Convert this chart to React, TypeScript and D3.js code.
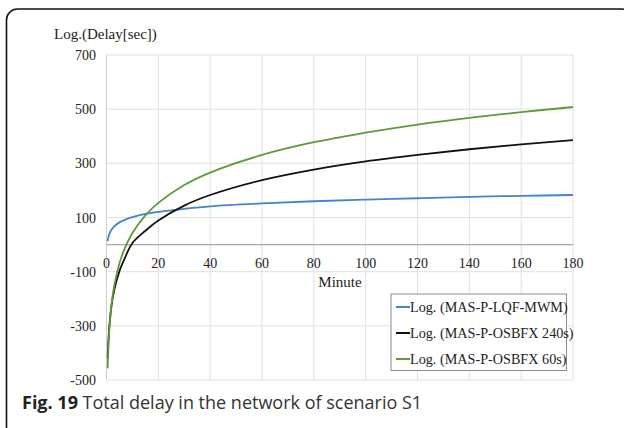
import React from 'react'
import * as d3 from 'd3'

// sample points (minute, log delay)
const minutes = [0.45, 1, 2, 3, 5, 7, 10, 15, 20, 30, 40, 60, 80, 100, 120, 140, 160, 180]
const lqfMwm = [13, 37, 56, 67, 82, 91, 101, 113, 121, 132, 141, 152, 160, 166, 171, 176, 180, 183]
const osbfx240 = [-420, -315, -221, -167, -98, -52, 6, 51, 89, 144, 183, 238, 277, 307, 331, 352, 370, 386]
const osbfx60 = [-457, -328, -216, -151, -69, -15, 43, 108, 154, 220, 266, 331, 378, 413, 443, 468, 489, 508]

const xTicks = [0, 20, 40, 60, 80, 100, 120, 140, 160, 180]
const yTicks = [-500, -300, -100, 100, 300, 500, 700]

const seriesNames = ['Log. (MAS-P-LQF-MWM)', 'Log. (MAS-P-OSBFX 240s)', 'Log. (MAS-P-OSBFX 60s)']
const seriesColors = ['#3f86cc', '#111111', '#5f9a3a']

export default function App() {
  const x = d3.scaleLinear().domain([0, 180]).range([106.5, 573])
  const y = d3.scaleLinear().domain([-500, 700]).range([380, 55])

  const line = d3
    .line<[number, number]>()
    .x(d => x(d[0]))
    .y(d => y(d[1]))
    .curve(d3.curveCatmullRom.alpha(0.5))

  const allSeries = [lqfMwm, osbfx240, osbfx60]
  const serif = "'Liberation Serif', 'Times New Roman', serif"

  return (
    <svg width={624} height={428} style={{ position: 'absolute', left: 0, top: 0 }}>
      <rect x={0} y={0} width={624} height={428} fill="#fff" />
      <rect x={6.5} y={9} width={626} height={430} rx={11} fill="none" stroke="#111" strokeWidth={1.6} />

      {/* grid */}
      {yTicks.map(t => (
        <line key={'gy' + t} x1={x(0)} x2={x(180)} y1={y(t)} y2={y(t)} stroke="#e0e0e0" />
      ))}
      {xTicks.map(t => (
        <line key={'gx' + t} x1={x(t)} x2={x(t)} y1={y(700)} y2={y(-500)} stroke={t === 0 ? '#cfcfcf' : '#e0e0e0'} />
      ))}
      <line x1={x(0)} x2={x(180)} y1={y(0)} y2={y(0)} stroke="#a6a6a6" strokeWidth={1.2} />

      {/* y labels */}
      {yTicks.map(t => (
        <text key={'ly' + t} x={96} y={y(t) + 5} textAnchor="end" fontFamily={serif} fontSize={14} fill="#222">
          {t}
        </text>
      ))}
      <text x={54} y={39} fontFamily={serif} fontSize={15} fill="#222">Log.(Delay[sec])</text>

      {/* x labels */}
      {xTicks.map(t => (
        <text key={'lx' + t} x={x(t)} y={y(0) + 23} textAnchor="middle" fontFamily={serif} fontSize={14} fill="#222">
          {t}
        </text>
      ))}
      <text x={340} y={287} textAnchor="middle" fontFamily={serif} fontSize={15} fill="#222">Minute</text>

      {/* curves */}
      {allSeries.map((vals, i) => (
        <path
          key={'s' + i}
          d={line(minutes.map((m, j) => [m, vals[j]] as [number, number])) || ''}
          fill="none"
          stroke={seriesColors[i]}
          strokeWidth={1.8}
        />
      ))}

      {/* legend */}
      <rect x={391} y={294} width={175.5} height={76.5} fill="#fff" stroke="#8c8c8c" />
      {seriesNames.map((n, i) => (
        <g key={'lg' + i} transform={`translate(396, ${307 + i * 26})`}>
          <line x1={0} x2={14} y1={0} y2={0} stroke={seriesColors[i]} strokeWidth={2} />
          <text x={14} y={5} fontFamily={serif} fontSize={14.2} fill="#222">{n}</text>
        </g>
      ))}

      {/* caption */}
      <text x={22} y={409} fontFamily="'Open Sans', sans-serif" fontSize={18} fill="#333">
        <tspan fontWeight="bold" fill="#222">Fig. 19</tspan>
        <tspan> Total delay in the network of scenario S1</tspan>
      </text>
    </svg>
  )
}
